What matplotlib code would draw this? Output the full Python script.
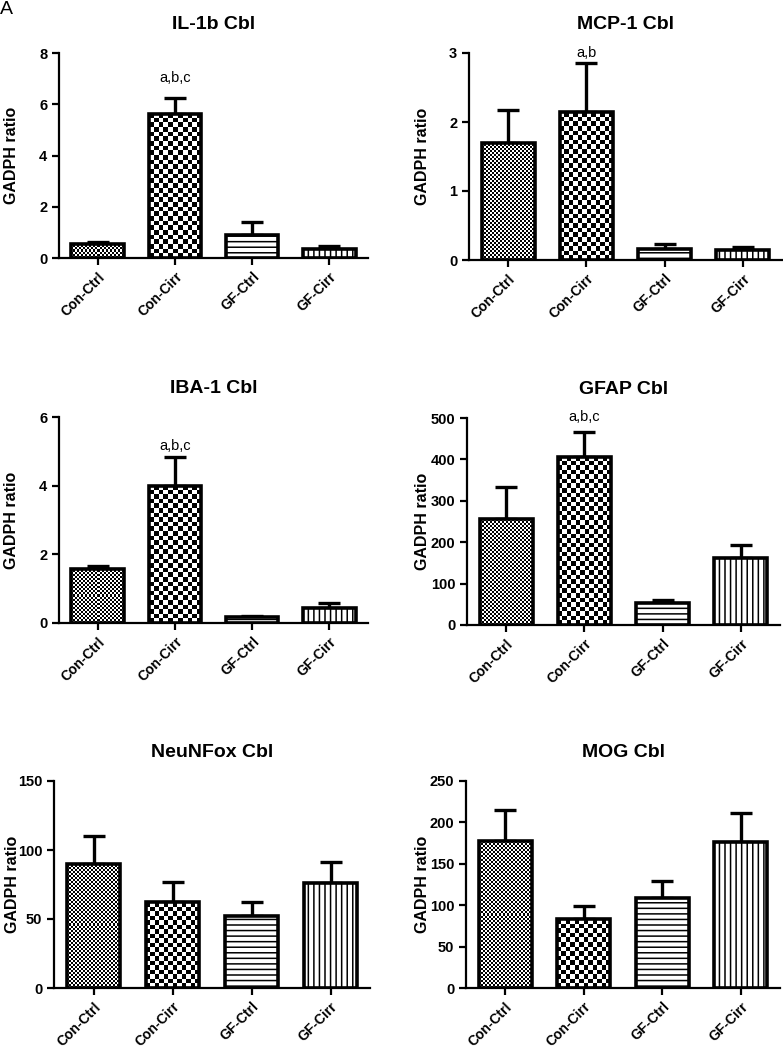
import matplotlib
matplotlib.use('Agg')
import matplotlib.pyplot as plt
import numpy as np

plt.rcParams['font.family'] = ['Liberation Sans', 'DejaVu Sans']
plt.rcParams['hatch.linewidth'] = 1.1
plt.rcParams['hatch.color'] = 'black'

groups = ['Con-Ctrl', 'Con-Cirr', 'GF-Ctrl', 'GF-Cirr']
# fill of each group: checker cell size in px, or a hatch string
fills = [('check', 2.0), ('check', 4.6), ('hatch', '---'), ('hatch', '|||')]

il1b_mean = [0.55, 5.62, 0.90, 0.35]
il1b_err = [0.08, 0.63, 0.50, 0.10]
mcp1_mean = [1.70, 2.14, 0.16, 0.14]
mcp1_err = [0.48, 0.71, 0.07, 0.05]
iba1_mean = [1.58, 4.00, 0.17, 0.44]
iba1_err = [0.08, 0.83, 0.03, 0.14]
gfap_mean = [255, 407, 53, 162]
gfap_err = [78, 58, 7, 31]
neun_mean = [90, 62, 52, 76]
neun_err = [20, 15, 10, 15]
mog_mean = [177, 83, 109, 176]
mog_err = [38, 16, 20, 35]

W, H = 783, 1050

# title, means, errors, y ticks, significance label, label y,
# axes box in pixels (l, r, top, bottom), y label right edge in pixels
panels = [
    ('IL-1b Cbl', il1b_mean, il1b_err, [0, 2, 4, 6, 8], 'a,b,c', 6.75, (59, 368, 53, 258), 19),
    ('MCP-1 Cbl', mcp1_mean, mcp1_err, [0, 1, 2, 3], 'a,b', 2.9, (469, 782, 53, 260), 430),
    ('IBA-1 Cbl', iba1_mean, iba1_err, [0, 2, 4, 6], 'a,b,c', 4.95, (59, 368, 417, 623), 19),
    ('GFAP Cbl', gfap_mean, gfap_err, [0, 100, 200, 300, 400, 500], 'a,b,c', 485, (467, 780, 418, 625), 430),
    ('NeuNFox Cbl', neun_mean, neun_err, [0, 50, 100, 150], None, None, (54, 370, 781, 988), 20),
    ('MOG Cbl', mog_mean, mog_err, [0, 50, 100, 150, 200, 250], None, None, (466, 780, 781, 988), 430),
]

fig = plt.figure(figsize=(W / 100, H / 100), dpi=100)
fig.text(0.0, 0.999, 'A', fontsize=14, va='top', ha='left')


def checker(ax, bar, cell):
    x0, y0 = bar.get_x(), bar.get_y()
    x1, y1 = x0 + bar.get_width(), y0 + bar.get_height()
    p0 = ax.transData.transform((x0, y0))
    p1 = ax.transData.transform((x1, y1))
    nx = max(1, int(round((p1[0] - p0[0]) / cell)))
    ny = max(1, int(round((p1[1] - p0[1]) / cell)))
    board = np.add.outer(np.arange(ny), np.arange(nx)) % 2
    ax.imshow(board, cmap='gray', extent=(x0, x1, y0, y1), origin='lower',
              interpolation='nearest', aspect='auto', zorder=2)


for title, mean, err, yticks, sig, sig_y, (l, r, t, b), lab_x in panels:
    ax = fig.add_axes([l / W, 1 - b / H, (r - l) / W, (b - t) / H])
    x = list(range(len(groups)))
    ax.set_xlim(-0.5, 3.5)
    ax.set_ylim(0, yticks[-1])

    hatch = [f[1] if f[0] == 'hatch' else None for f in fills]
    bars = ax.bar(x, mean, width=0.68, color='white', edgecolor='black',
                  linewidth=0, hatch=hatch, zorder=1.5)
    for bar, f in zip(bars, fills):
        if f[0] == 'check':
            checker(ax, bar, f[1])
    ax.bar(x, mean, width=0.68, fill=False, edgecolor='black', linewidth=2.6, zorder=3)
    ax.errorbar(x, mean, yerr=[[0] * len(err), err], fmt='none',
                ecolor='black', elinewidth=2.4, capsize=8, capthick=2.4, zorder=1)
    if sig:
        ax.text(1, sig_y, sig, ha='center', va='bottom', fontsize=10.5)

    ax.set_xlim(-0.5, 3.5)
    ax.set_ylim(0, yticks[-1])
    ax.set_yticks(yticks)
    ax.set_xticks(x)
    ax.set_xticklabels(groups, rotation=45, ha='right', va='top',
                       rotation_mode='anchor', fontsize=10, fontweight='bold')
    for lab in ax.get_yticklabels():
        lab.set_fontweight('bold')
        lab.set_fontsize(10.5)
    ax.tick_params(width=1.6, length=5, direction='out')
    ax.spines['top'].set_visible(False)
    ax.spines['right'].set_visible(False)
    ax.spines['left'].set_linewidth(1.6)
    ax.spines['bottom'].set_linewidth(1.6)
    ax.set_title(title, fontsize=14, fontweight='bold', pad=17)
    ax.set_ylabel('GADPH ratio', fontsize=11.5, fontweight='bold')
    ax.yaxis.set_label_coords((lab_x - l) / (r - l), 0.5)

fig.savefig('out.png', dpi=100)
